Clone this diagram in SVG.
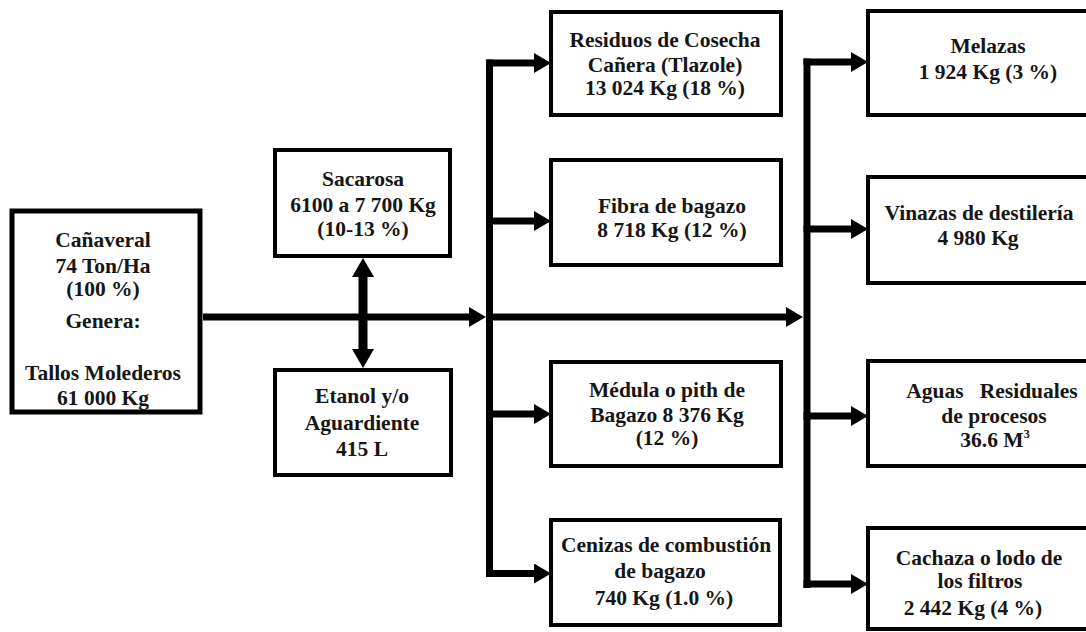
<svg xmlns="http://www.w3.org/2000/svg" width="1086" height="632" viewBox="0 0 1086 632">
<style>
  .box { fill: #ffffff; stroke: #000000; stroke-width: 4; }
  .box5 { fill: #ffffff; stroke: #000000; stroke-width: 5; }
  .t { font-family: "Liberation Serif", "Times New Roman", serif; font-weight: bold; font-size: 21.5px; fill: #161616; text-anchor: middle; }
  .ln { fill: none; stroke: #000000; stroke-width: 7; }
  .ar { fill: none; stroke: #000000; stroke-width: 7; marker-end: url(#ah); }
</style>
<defs>
  <marker id="ah" markerUnits="userSpaceOnUse" viewBox="0 -10 17 20" refX="0" refY="0" markerWidth="17" markerHeight="20" orient="auto">
    <path d="M0,-10 L17,0 L0,10 z" fill="#000000"/>
  </marker>
  <marker id="ah2" markerUnits="userSpaceOnUse" viewBox="0 -11 19 22" refX="0" refY="0" markerWidth="19" markerHeight="22" orient="auto-start-reverse">
    <path d="M0,-11 L19,0 L0,11 z" fill="#000000"/>
  </marker>
</defs>
<rect width="1086" height="632" fill="#ffffff"/>

<g id="connectors">
  <path class="ar" d="M203,317 H469"/>
  <path class="ar" d="M493,317 H786"/>
  <path d="M363,277 V349" fill="none" stroke="#000000" stroke-width="9" marker-start="url(#ah2)" marker-end="url(#ah2)"/>
  <path class="ln" d="M489.5,59.5 V577"/>
  <path class="ar" d="M486,63 H534"/>
  <path class="ar" d="M486,221 H534"/>
  <path class="ar" d="M486,414 H534"/>
  <path class="ar" d="M486,573.5 H534"/>
  <path class="ln" d="M807,58.5 V588"/>
  <path class="ar" d="M803.5,62 H851"/>
  <path class="ar" d="M803.5,229 H851"/>
  <path class="ar" d="M803.5,416 H851"/>
  <path class="ar" d="M803.5,584 H851"/>
</g>

<g id="canaveral">
  <rect class="box5" x="12" y="211" width="188" height="201"/>
  <text class="t" x="103" y="247">Cañaveral</text>
  <text class="t" x="103" y="273">74 Ton/Ha</text>
  <text class="t" x="103" y="296">(100 %)</text>
  <text class="t" x="103" y="328">Genera:</text>
  <text class="t" x="103" y="380">Tallos Molederos</text>
  <text class="t" x="103" y="405">61 000 Kg</text>
</g>

<g id="sacarosa">
  <rect class="box" x="275" y="150" width="175" height="106"/>
  <text class="t" x="363" y="186">Sacarosa</text>
  <text class="t" x="363" y="212">6100 a 7 700 Kg</text>
  <text class="t" x="363" y="236">(10-13 %)</text>
</g>

<g id="etanol">
  <rect class="box" x="275" y="370" width="176" height="105"/>
  <text class="t" x="362" y="403">Etanol y/o</text>
  <text class="t" x="362" y="430">Aguardiente</text>
  <text class="t" x="362" y="456">415 L</text>
</g>

<g id="residuos">
  <rect class="box" x="551" y="12" width="230" height="103"/>
  <text class="t" x="665" y="47">Residuos de Cosecha</text>
  <text class="t" x="665" y="72">Cañera (Tlazole)</text>
  <text class="t" x="665" y="95">13 024 Kg (18 %)</text>
</g>

<g id="fibra">
  <rect class="box" x="551" y="160" width="230" height="105"/>
  <text class="t" x="672" y="213">Fibra de bagazo</text>
  <text class="t" x="672" y="237">8 718 Kg (12 %)</text>
</g>

<g id="medula">
  <rect class="box" x="551" y="362" width="230" height="104"/>
  <text class="t" x="667" y="397">Médula o pith de</text>
  <text class="t" x="667" y="422">Bagazo 8 376 Kg</text>
  <text class="t" x="667" y="445">(12 %)</text>
</g>

<g id="cenizas">
  <rect class="box" x="551" y="520" width="229" height="105"/>
  <text class="t" x="666" y="552">Cenizas de combustión</text>
  <text class="t" x="660" y="578">de bagazo</text>
  <text class="t" x="664" y="605">740 Kg (1.0 %)</text>
</g>

<g id="melazas">
  <rect class="box" x="868" y="11" width="240" height="104"/>
  <text class="t" x="988" y="53">Melazas</text>
  <text class="t" x="988" y="79">1 924 Kg (3 %)</text>
</g>

<g id="vinazas">
  <rect class="box" x="868" y="177" width="240" height="106"/>
  <text class="t" x="979" y="220">Vinazas de destilería</text>
  <text class="t" x="978" y="245">4 980 Kg</text>
</g>

<g id="aguas">
  <rect class="box" x="868" y="361" width="240" height="105"/>
  <text class="t" x="992" y="398" xml:space="preserve">Aguas   Residuales</text>
  <text class="t" x="994" y="423">de procesos</text>
  <text class="t" x="995" y="447">36.6 M<tspan font-size="12" dy="-9">3</tspan></text>
</g>

<g id="cachaza">
  <rect class="box" x="868" y="528" width="240" height="101"/>
  <text class="t" x="979" y="565">Cachaza o lodo de</text>
  <text class="t" x="980" y="588">los filtros</text>
  <text class="t" x="973" y="615">2 442 Kg (4 %)</text>
</g>
</svg>
